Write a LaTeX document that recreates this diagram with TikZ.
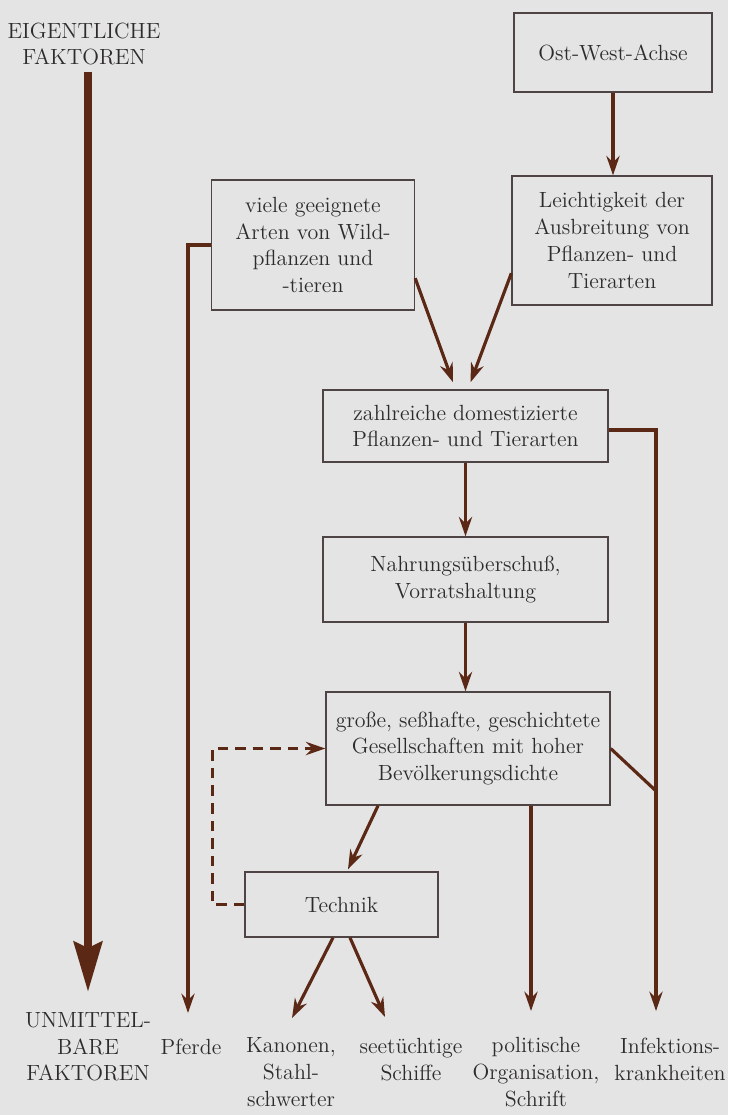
\documentclass[tikz,border=0pt]{standalone}
\usepackage{fontspec}
\usetikzlibrary{arrows.meta}

\definecolor{papier}{RGB}{228,228,228}
\definecolor{braun}{RGB}{92,40,22}
\definecolor{rahmen}{RGB}{78,68,68}
\definecolor{schrift}{RGB}{45,43,43}

\tikzset{
    kasten/.style={draw=rahmen, line width=0.8pt, align=center, inner sep=0pt,
        text=schrift, font=\fontsize{12.5}{15.2}\selectfont},
    etikett/.style={align=center, text=schrift, font=\fontsize{12.5}{15.2}\selectfont},
    linie/.style={draw=braun, line width=1.8pt},
    pfeil/.style={linie, -{Stealth[length=11pt, width=7.5pt]}},
    strichpfeil/.style={pfeil, dash pattern=on 6pt off 4pt},
    grosspfeil/.style={draw=braun, line width=4.8pt, -{Stealth[length=1cm, width=0.56cm, inset=0.12cm]}}
}

\begin{document}
\begin{tikzpicture}[x=0.02cm, y=-0.02cm]
    % Hintergrund, 728 x 1115 Pixel
    \fill[papier] (0,0) rectangle (728,1115);
    \useasboundingbox (0,0) rectangle (728,1115);

    % Kaesten
    \node[kasten, minimum width=3.96cm, minimum height=1.58cm] (ost) at (613,52.5) {Ost-West-Achse};
    \node[kasten, minimum width=4.0cm, minimum height=2.58cm] (leicht) at (612,240.5)
        {Leichtigkeit der\\Ausbreitung von\\Pflanzen- und\\Tierarten};
    \node[kasten, minimum width=4.06cm, minimum height=2.6cm] (viele) at (313,245)
        {viele geeignete\\Arten von Wild-\\pflanzen und\\-tieren};
    \node[kasten, minimum width=5.7cm, minimum height=1.44cm] (zahl) at (465.5,426)
        {zahlreiche domestizierte\\Pflanzen- und Tierarten};
    \node[kasten, minimum width=5.7cm, minimum height=1.7cm] (nahr) at (465.5,579.5)
        {Nahrungsüberschuß,\\Vorratshaltung};
    \node[kasten, minimum width=5.68cm, minimum height=2.26cm] (gross) at (468,748.5)
        {große, seßhafte, geschichtete\\Gesellschaften mit hoher\\Bevölkerungsdichte};
    \node[kasten, minimum width=3.86cm, minimum height=1.3cm] (technik) at (341.5,904.5) {Technik};

    % Beschriftungen
    \node[etikett] (eigen) at (84,44) {EIGENTLICHE\\FAKTOREN};
    \node[etikett] (unmittel) at (88,1047) {UNMITTEL-\\BARE\\FAKTOREN};
    \node[etikett] (pferde) at (191,1047) {Pferde};
    \node[etikett] (kanonen) at (291,1072) {Kanonen,\\Stahl-\\schwerter};
    \node[etikett] (schiffe) at (411,1059.5) {seetüchtige\\Schiffe};
    \node[etikett] (politik) at (536,1072) {politische\\Organisation,\\Schrift};
    \node[etikett] (infekt) at (670,1059.5) {Infektions-\\krankheiten};

    % Endpunkte der Pfeile
    \coordinate (grossziel) at (88,992);
    \coordinate (pferdeziel) at (188,1013);
    \coordinate (kanonenziel) at (292,1018);
    \coordinate (schiffziel) at (385,1017);
    \coordinate (politikziel) at (531,1011);
    \coordinate (infektziel) at (656,1011);
    \coordinate (treff) at (655,790);

    % Verbindungen
    \draw[grosspfeil] (eigen.south -| grossziel) -- (grossziel);
    \draw[pfeil] (ost.south) -- (ost.south |- leicht.north);
    \draw[pfeil] (viele.-18) -- ([xshift=-0.25cm, yshift=0.14cm]zahl.north);
    \draw[pfeil] (leicht.198) -- ([xshift=0.1cm, yshift=0.14cm]zahl.north);
    \draw[pfeil] (viele.west) -| (pferdeziel);
    \draw[pfeil] (zahl.south) -- (nahr.north);
    \draw[pfeil] (nahr.south) -- (nahr.south |- gross.north);
    \draw[pfeil] ([yshift=-0.08cm]zahl.east) -| (infektziel);
    \draw[linie] (gross.east) -- (treff);
    \draw[pfeil] ([xshift=-1.8cm]gross.south) -- ([xshift=0.13cm, yshift=0.04cm]technik.north);
    \draw[pfeil] (politikziel |- gross.south) -- (politikziel);
    \draw[strichpfeil] (technik.west) -- ++(-32,0) |- (gross.west);
    \draw[pfeil] ([xshift=-0.17cm]technik.south) -- (kanonenziel);
    \draw[pfeil] ([xshift=0.17cm]technik.south) -- (schiffziel);
\end{tikzpicture}
\end{document}
